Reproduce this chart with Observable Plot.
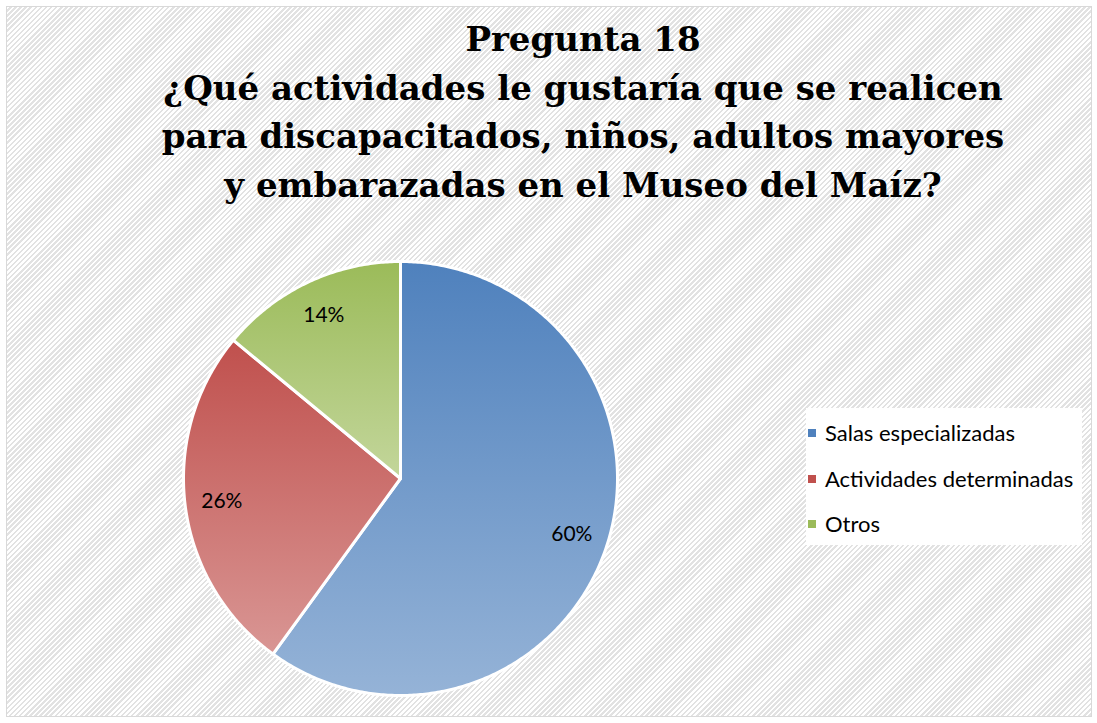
<!DOCTYPE html>
<html>
<head>
<meta charset="utf-8">
<script src="https://cdn.jsdelivr.net/npm/d3@7"></script>
<script src="https://cdn.jsdelivr.net/npm/@observablehq/plot@0.6"></script>
<style>
  html, body { margin: 0; padding: 0; background: #fff; }
  #frame {
    position: relative; width: 1097px; height: 723px; overflow: hidden; background: #fff;
  }
  #panel {
    position: absolute; left: 6px; top: 6px; width: 1084px; height: 709px;
    border: 1.5px solid #d9d9d9;
    background: repeating-linear-gradient(135deg, #ffffff 0px, #ffffff 1.8px, #e2e2e2 1.8px, #e2e2e2 3.6px);
  }
  #title {
    position: absolute; left: 83px; width: 1000px; top: 15px; text-align: center;
    font-family: "DejaVu Serif", serif; font-weight: bold; font-size: 34px; line-height: 48.5px; color: #000;
  }
  #chart { position: absolute; left: 0; top: 0; }
  #legend {
    position: absolute; left: 806px; top: 408px; width: 276px; height: 137px; background: #fff;
    font-family: Lato, sans-serif; font-size: 22px; color: #000;
  }
  .item { position: absolute; left: 0; height: 24px; line-height: 24px; white-space: nowrap; }
  .sw { position: absolute; left: 2px; top: 8px; width: 8px; height: 8px; }
  .lab { position: absolute; left: 19px; top: 0; }
</style>
</head>
<body>
<div id="frame">
  <div id="panel"></div>
  <svg width="0" height="0" style="position:absolute">
    <defs id="defs"></defs>
  </svg>
  <div id="chart"></div>
  <div id="title"></div>
  <div id="legend"></div>
</div>
<script>
// ---- data ----
const titleLines = [
  "Pregunta 18",
  "¿Qué actividades le gustaría que se realicen",
  "para discapacitados, niños, adultos mayores",
  "y embarazadas en el Museo del Maíz?"
];
const categories = ["Salas especializadas", "Actividades determinadas", "Otros"];
const values = [60, 26, 14];
const valueLabels = ["60%", "26%", "14%"];

// ---- styles ----
const gradTop = ["#4f81bd", "#c0504d", "#9bbb59"];
const gradBottom = ["#95b3d7", "#d99694", "#c3d69b"];
const legendColors = ["#4f81bd", "#c0504d", "#9bbb59"];

// gradients
const defs = document.getElementById("defs");
categories.forEach((c, i) => {
  const ns = "http://www.w3.org/2000/svg";
  const g = document.createElementNS(ns, "linearGradient");
  g.setAttribute("id", "g" + i);
  g.setAttribute("x1", "0"); g.setAttribute("y1", "0");
  g.setAttribute("x2", "0"); g.setAttribute("y2", "1");
  const s1 = document.createElementNS(ns, "stop");
  s1.setAttribute("offset", "0"); s1.setAttribute("stop-color", gradTop[i]);
  const s2 = document.createElementNS(ns, "stop");
  s2.setAttribute("offset", "1"); s2.setAttribute("stop-color", gradBottom[i]);
  g.appendChild(s1); g.appendChild(s2);
  defs.appendChild(g);
});

// title
document.getElementById("title").innerHTML = titleLines.map(t => `<div>${t}</div>`).join("");

// pie geometry in unit coordinates
const arcs = d3.pie().sort(null).value(d => d)(values);
const slices = arcs.map((a, i) => {
  const n = Math.max(2, Math.ceil((a.endAngle - a.startAngle) / 0.01));
  const pts = [{x: 0, y: 0}];
  for (let k = 0; k <= n; k++) {
    const t = a.startAngle + (a.endAngle - a.startAngle) * k / n;
    pts.push({x: Math.sin(t), y: Math.cos(t)});
  }
  pts.push({x: 0, y: 0});
  return pts;
});
const labelData = arcs.map((a, i) => {
  const m = (a.startAngle + a.endAngle) / 2;
  const k = 0.83;
  return {x: k * Math.sin(m), y: k * Math.cos(m), label: valueLabels[i]};
});

const chart = Plot.plot({
  width: 1097,
  height: 723,
  marginLeft: 183,
  marginRight: 480,
  marginTop: 261,
  marginBottom: 28,
  x: {domain: [-1, 1], axis: null},
  y: {domain: [-1, 1], axis: null},
  style: {background: "transparent", overflow: "visible"},
  marks: [
    ...slices.map((pts, i) => Plot.line(pts, {
      x: "x", y: "y", fill: `url(#g${i})`, stroke: "#ffffff", strokeWidth: 3, strokeLinejoin: "round"
    })),
    Plot.text(labelData, {
      x: "x", y: "y", text: "label", fontSize: 21, fontFamily: "Lato, sans-serif", fill: "#000"
    })
  ]
});
document.getElementById("chart").appendChild(chart);

// legend
const legend = document.getElementById("legend");
categories.forEach((c, i) => {
  const it = document.createElement("div");
  it.className = "item";
  it.style.top = (13 + i * 45.5) + "px";
  it.innerHTML = `<span class="sw" style="background:${legendColors[i]}"></span><span class="lab">${c}</span>`;
  legend.appendChild(it);
});
</script>
</body>
</html>
